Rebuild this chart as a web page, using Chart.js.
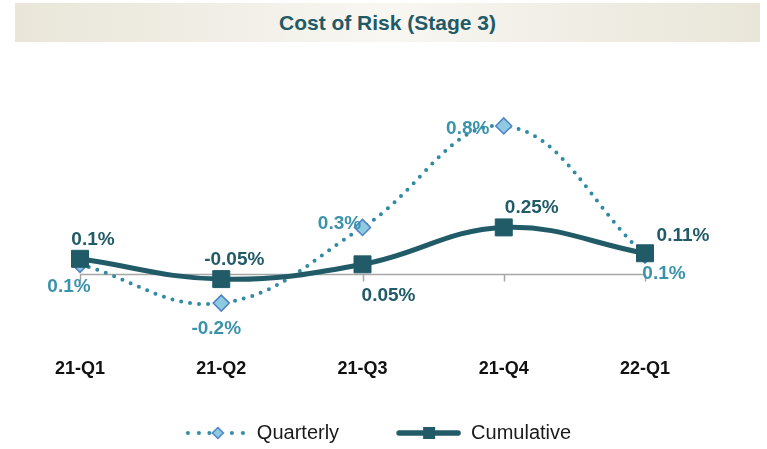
<!DOCTYPE html>
<html>
<head>
<meta charset="utf-8">
<script src="https://cdn.jsdelivr.net/npm/chart.js@4.4.0/dist/chart.umd.min.js"></script>
<style>
  html, body { margin: 0; padding: 0; background: #fff; }
  #wrap { position: relative; width: 767px; height: 449px; }
  #chartTitle {
    position: absolute; left: 15px; top: 3px; width: 745px; height: 39px;
    font: bold 21px "Liberation Sans", Arial, sans-serif; color: #1f5a66;
    line-height: 39px; text-align: center;
    background: linear-gradient(to right, #e9e6d9 0%, #f1efe7 30%, #f8f7f2 50%, #f1efe7 70%, #e9e6d9 100%);
  }
  canvas { position: absolute; left: 0; top: 0; }
</style>
</head>
<body>
<div id="wrap">
  <canvas id="corChart" width="767" height="449"></canvas>
  <div id="chartTitle">Cost of Risk (Stage 3)</div>
</div>
<script>
// Cost of risk (stage 3), values in %
const quarters = ['21-Q1', '21-Q2', '21-Q3', '21-Q4', '22-Q1'];
const quarterlyValues = [0.05, -0.16, 0.25, 0.8, 0.1];
const cumulativeValues = [0.08, -0.03, 0.05, 0.25, 0.11];
const quarterlyLabels = ['0.1%', '-0.2%', '0.3%', '0.8%', '0.1%'];
const cumulativeLabels = ['0.1%', '-0.05%', '0.05%', '0.25%', '0.11%'];

const FONT = '"Liberation Sans", Arial, sans-serif';
const DARK = '#215b68';
const LIGHT = '#2f8ba3';
const LIGHT_TEXT = '#3b93ab';
const DIAMOND_FILL = '#8ecbe1';
const DIAMOND_EDGE = '#4f81c7';

// legend swatches: line + marker, drawn into a small canvas
function legendSymbol(kind) {
    const c = document.createElement('canvas');
    c.width = 93; c.height = 20;
    const g = c.getContext('2d');
    if (kind === 'Quarterly') {
        g.fillStyle = LIGHT;
        [34, 45, 55.5, 78, 89].forEach(x => {
            g.beginPath(); g.arc(x, 10, 2, 0, Math.PI * 2); g.fill();
        });
        g.beginPath();
        g.moveTo(64, 4.5); g.lineTo(69.5, 10); g.lineTo(64, 15.5); g.lineTo(58.5, 10);
        g.closePath();
        g.fillStyle = DIAMOND_FILL; g.fill();
        g.strokeStyle = DIAMOND_EDGE; g.lineWidth = 1.5; g.stroke();
    } else {
        g.strokeStyle = DARK; g.lineWidth = 5.5; g.lineCap = 'round';
        g.beginPath(); g.moveTo(31, 10); g.lineTo(90, 10); g.stroke();
        g.fillStyle = DARK; g.fillRect(55, 4, 12, 12);
    }
    return c;
}

// grey zero line with small ticks under each quarter
const zeroLine = {
    id: 'zeroLine',
    beforeDatasetsDraw(chart) {
        const {ctx, chartArea, scales: {x, y}} = chart;
        const y0 = Math.round(y.getPixelForValue(0)) + 0.5;
        ctx.save();
        ctx.strokeStyle = '#a6a6a6';
        ctx.lineWidth = 1.5;
        ctx.beginPath();
        ctx.moveTo(chartArea.left, y0);
        ctx.lineTo(chartArea.right, y0);
        quarters.forEach((q, i) => {
            const px = Math.round(x.getPixelForValue(i)) + 0.5;
            ctx.moveTo(px, y0);
            ctx.lineTo(px, y0 + 7);
        });
        ctx.stroke();
        ctx.restore();
    }
};

// value labels next to each point
const pointLabels = {
    id: 'pointLabels',
    afterDatasetsDraw(chart) {
        const {ctx} = chart;
        ctx.save();
        ctx.font = 'bold 19px ' + FONT;
        ctx.textAlign = 'center';
        ctx.textBaseline = 'middle';
        chart.data.datasets.forEach((ds, i) => {
            const meta = chart.getDatasetMeta(i);
            ctx.fillStyle = ds.labelColor;
            meta.data.forEach((pt, j) => {
                const [dx, dy] = ds.labelOffsets[j];
                ctx.fillText(ds.valueLabels[j], pt.x + dx, pt.y + dy);
            });
        });
        ctx.restore();
    }
};

new Chart(document.getElementById('corChart'), {
    type: 'line',
    data: {
        labels: quarters,
        datasets: [{
            label: 'Cumulative',
            data: cumulativeValues,
            borderColor: DARK,
            borderWidth: 5,
            tension: 0.4,
            pointStyle: 'rect',
            pointRadius: 12,
            pointBackgroundColor: DARK,
            pointBorderColor: DARK,
            pointBorderWidth: 1,
            clip: false,
            valueLabels: cumulativeLabels,
            labelColor: DARK,
            labelOffsets: [[13, -19], [13, -19], [26, 31], [28, -20], [38, -18]]
        }, {
            label: 'Quarterly',
            data: quarterlyValues,
            borderColor: LIGHT,
            borderWidth: 4,
            borderDash: [0, 9],
            borderCapStyle: 'round',
            tension: 0.4,
            pointStyle: 'rectRot',
            pointRadius: 8,
            pointBackgroundColor: DIAMOND_FILL,
            pointBorderColor: DIAMOND_EDGE,
            pointBorderWidth: 1.5,
            clip: false,
            valueLabels: quarterlyLabels,
            labelColor: LIGHT_TEXT,
            labelOffsets: [[-11, 22], [-5, 26], [-23, -4], [-36, 3], [19, 19]]
        }]
    },
    options: {
        responsive: false,
        animation: false,
        layout: { padding: { top: 89, left: 80, right: 122, bottom: -4 } },
        scales: {
            x: {
                grid: { display: false },
                border: { display: false },
                ticks: {
                    color: '#111',
                    font: { family: FONT, size: 18, weight: 'bold' },
                    maxRotation: 0,
                    autoSkip: false,
                    padding: 3
                },
                afterFit(scale) { scale.height += 11; }
            },
            y: { display: false, min: -0.40, max: 1.0 }
        },
        plugins: {
            legend: {
                position: 'bottom',
                reverse: true,
                labels: {
                    usePointStyle: true,
                    pointStyleWidth: 93,
                    padding: 29,
                    color: '#1a1a1a',
                    font: { family: FONT, size: 20 },
                    generateLabels(chart) {
                        const items = Chart.defaults.plugins.legend.labels.generateLabels(chart);
                        items.forEach(it => { it.pointStyle = legendSymbol(it.text); });
                        return items;
                    }
                }
            },
            tooltip: { enabled: false }
        }
    },
    plugins: [zeroLine, pointLabels]
});
</script>
</body>
</html>
